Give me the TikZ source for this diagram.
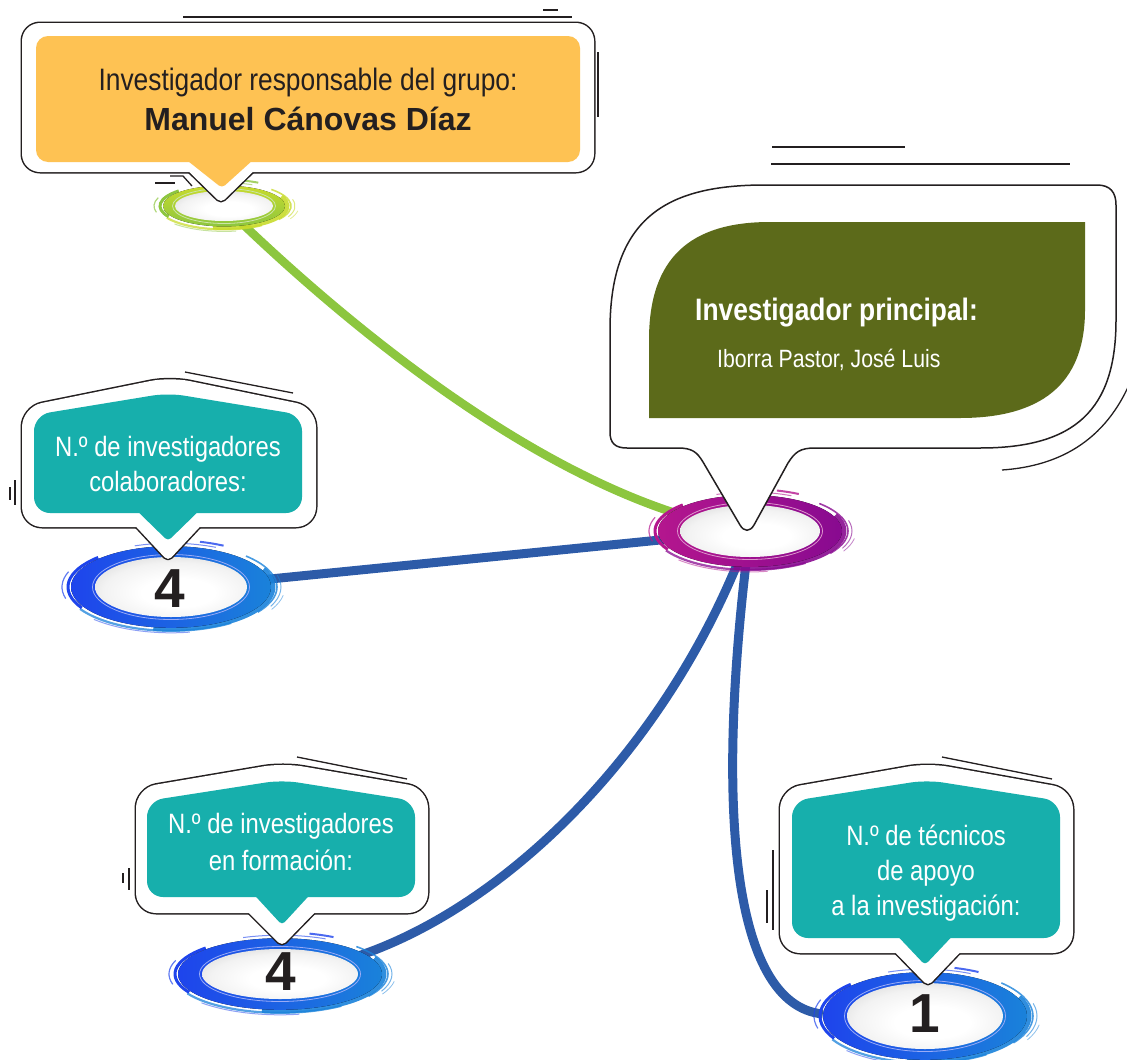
\documentclass[tikz,border=0pt]{standalone}
\usepackage{fontspec}
\setmainfont{Liberation Sans}
\newfontfamily\condf{Liberation Sans}[FakeStretch=0.85]
\usetikzlibrary{shapes.geometric}
\pgfdeclarelayer{bg}
\pgfsetlayers{bg,main}
\definecolor{ink}{HTML}{231F20}
\definecolor{orangefill}{HTML}{FEC253}
\definecolor{tealfill}{HTML}{17AFAC}
\definecolor{olivefill}{HTML}{5C6A1A}
\definecolor{linegreen}{HTML}{8CC63F}
\definecolor{lineblue}{HTML}{2D5BA8}
\definecolor{ringblue}{HTML}{1E44EC}
\definecolor{ringsky}{HTML}{1A82DA}
\definecolor{ringmag}{HTML}{B4168E}
\definecolor{ringpur}{HTML}{880A90}
\definecolor{ringgreen}{HTML}{8DC63F}
\definecolor{ringlime}{HTML}{C8DB2C}
\pgfdeclareradialshading{holeshade}{\pgfpoint{3bp}{-6bp}}{color(0bp)=(white); color(12bp)=(white); color(24bp)=(black!5); color(34bp)=(black!15); color(42bp)=(black!30); color(50bp)=(black!52); color(58bp)=(black!62)}
\newcommand\ringnumfont{\fontsize{55}{55}\selectfont\bfseries}
\newcommand\brarc[5]{\draw[#5] ({(#1)*cos(#3)},{(#2)*sin(#3)}) arc[start angle=#3, end angle=#4, x radius={#1}, y radius={#2}];}
% #1 cx, #2 cy, #3 rx, #4 ry, #5 thickness, #6 shading, #7 colour A, #8 colour B
\newcommand\brushring[8]{%
\begin{scope}[shift={(#1,#2)}]
\pgfmathsetmacro\bra{#3}%
\pgfmathsetmacro\brb{#4}%
\pgfmathsetmacro\brt{#5}%
\brarc{\bra+\brt+2}{\brb+.45*\brt+1}{-25}{100}{#8,line width=5pt,opacity=.9}
\brarc{\bra+\brt+6}{\brb+.45*\brt+3}{-45}{35}{#8,line width=1.6pt,opacity=.8}
\brarc{\bra+\brt+10}{\brb+.45*\brt+5}{-15}{25}{#8,line width=1pt,opacity=.6}
\brarc{\bra+\brt+5}{\brb+.45*\brt+3}{55}{150}{#8,line width=2.2pt,opacity=.75}
\brarc{\bra+\brt+9}{\brb+.45*\brt+5}{80}{135}{#7,line width=1pt,opacity=.5}
\brarc{\bra+\brt+3}{\brb+.45*\brt+1}{150}{225}{#7,line width=3pt}
\brarc{\bra+\brt+9}{\brb+.45*\brt+4}{165}{200}{#7,line width=1.2pt,opacity=.7}
\brarc{\bra+\brt+6}{\brb+.45*\brt+3}{-110}{-65}{#7,line width=1pt,opacity=.6}
\brarc{\bra+\brt+12}{\brb+.45*\brt+6}{-75}{-62}{#7,line width=2pt,opacity=.8}
\brarc{\bra+\brt+14}{\brb+.45*\brt+7}{10}{28}{#8,line width=.8pt,opacity=.5}
\fill[#6] (0,0) ellipse[x radius={\bra+\brt}, y radius={\brb+.45*\brt}];
\draw[#7!45!white, line width=.8pt] (0,0) ellipse[x radius={\bra+2.5}, y radius={\brb+2.5}];
\shade[shading=holeshade] (0,0) ellipse[x radius=\bra, y radius=\brb];
\end{scope}}

\begin{document}
\begin{tikzpicture}[x=1pt,y=-1pt,
  deco/.style={draw=ink, line width=1.3pt},
  outl/.style={draw=ink, line width=3pt, line join=round},
  conn/.style={line width=9pt},
  ringnode/.style={ellipse, inner sep=0pt, text=ink, font=\ringnumfont},
  txt/.style={inner sep=0pt, anchor=base},
  tealtxt/.style={txt, text=white, font=\condf\fontsize{28}{28}\selectfont},
]
\useasboundingbox (0,0) rectangle (1127,1060);

% ---------- rings ----------
\brushring{224}{206}{49}{15}{12}{top color=ringlime, bottom color=ringgreen}{ringgreen}{ringlime}
\brushring{750}{531}{70}{26}{22}{left color=ringmag, right color=ringpur}{ringmag}{ringpur}
\brushring{171}{587}{76}{30}{24}{left color=ringblue, middle color=ringblue, right color=ringsky}{ringblue}{ringsky}
\brushring{280}{974}{78}{25}{24}{left color=ringblue, middle color=ringblue, right color=ringsky}{ringblue}{ringsky}
\brushring{925}{1016}{78}{33}{24}{left color=ringblue, middle color=ringblue, right color=ringsky}{ringblue}{ringsky}

\node[ringnode, minimum width=130pt, minimum height=45pt] (rg) at (224,206) {};
\node[ringnode, minimum width=190pt, minimum height=75pt] (rc) at (750,531) {};
\node[ringnode, minimum width=200pt, minimum height=80pt] (rb1) at (170,589) {4};
\node[ringnode, minimum width=204pt, minimum height=74pt] (rb2) at (281,972) {4};
\node[ringnode, minimum width=204pt, minimum height=88pt] (rb3) at (925,1014) {1};

% ---------- connectors ----------
\begin{pgfonlayer}{bg}
\draw[conn, linegreen, line width=8.5pt] (rg.center) .. controls (310,290) and (540,500) .. (rc.center);
\draw[conn, lineblue] (rb1.center) -- (rc.center);
\draw[conn, lineblue] (rb2.center) .. controls (450,960) and (660,780) .. (rc.center);
\draw[conn, lineblue] (rc.center) .. controls (715,800) and (730,1005) .. (rb3.west);
\end{pgfonlayer}

% ---------- top callout ----------
\draw[outl, rounded corners=18] (22,23) rectangle (594,172);
\draw[outl, rounded corners=5] (177,160) -- (221,203) -- (265,160) -- cycle;
\fill[white, rounded corners=18] (22,23) rectangle (594,172);
\fill[white, rounded corners=5] (177,160) -- (221,203) -- (265,160) -- cycle;
\fill[orangefill, rounded corners=12] (36,36) rectangle (580,162);
\fill[orangefill, rounded corners=4] (174,150) -- (222,188) -- (264,150) -- cycle;
\node[txt, text=ink, font=\condf\fontsize{31}{31}\selectfont] (t1a) at (308,90) {Investigador responsable del grupo:};
\node[txt, text=ink, font=\fontsize{32}{32}\selectfont\bfseries] (t1b) at (308,130) {Manuel Cánovas Díaz};
\draw[deco] (183,17) -- (572,17);
\draw[deco] (543,10) -- (558,10);
\draw[deco] (598,52) -- (598,117);
\draw[deco] (155,183) -- (175,183);
\draw[deco] (170,176) -- (183,176) -- (192,186);

% ---------- principal callout ----------
\filldraw[fill=white, draw=ink, line width=1.5pt] (640,448) -- (678,448)
  .. controls (692,448) and (697,452) .. (703,462) -- (740,525)
  .. controls (744,532) and (750,532) .. (754,525) -- (788,463)
  .. controls (795,452) and (800,448) .. (815,448) -- (980,448)
  .. controls (1075,448) and (1116,410) .. (1116,320) -- (1116,205)
  .. controls (1116,192) and (1110,185) .. (1097,185) -- (765,185)
  .. controls (670,185) and (610,215) .. (610,330) -- (610,432)
  .. controls (610,443) and (615,448) .. (627,448) -- cycle;
\fill[olivefill] (649,418) -- (649,340) .. controls (649,258) and (690,222) .. (770,222)
  -- (1085,222) -- (1085,310) .. controls (1085,385) and (1040,418) .. (960,418) -- cycle;
\node[txt, anchor=base west, text=white, font=\condf\fontsize{31}{31}\selectfont\bfseries] (t2a) at (695,320) {Investigador principal:};
\node[txt, anchor=base west, text=white, font=\condf\fontsize{25}{25}\selectfont] (t2b) at (717,367) {Iborra Pastor, José Luis};
\draw[deco] (772,147) -- (905,147);
\draw[deco] (771,164) -- (1070,164);
\draw[deco] (1002,470) .. controls (1060,466) and (1110,440) .. (1135,370);

% ---------- collaborators callout ----------
\draw[outl, rounded corners=20] (22,527) -- (22,407) -- (170,377) -- (316,407) -- (316,527) -- cycle;
\draw[outl, rounded corners=5] (127,517) -- (168,561) -- (209,517) -- cycle;
\fill[white, rounded corners=20] (22,527) -- (22,407) -- (170,377) -- (316,407) -- (316,527) -- cycle;
\fill[white, rounded corners=5] (127,517) -- (168,561) -- (209,517) -- cycle;
\fill[tealfill, rounded corners=16] (34,513) -- (34,415) -- (168,393) -- (302,415) -- (302,513) -- cycle;
\fill[tealfill, rounded corners=4] (129,503) -- (168,541) -- (207,503) -- cycle;
\node[tealtxt] (t3a) at (168,456) {N.º de investigadores};
\node[tealtxt] (t3b) at (168,491) {colaboradores:};
\draw[deco] (185,372) -- (293,393);
\draw[deco] (10,487) -- (10,500);
\draw[deco] (15,480) -- (15,505);

% ---------- training callout ----------
\draw[outl, rounded corners=20] (136,913) -- (136,788) -- (283,763) -- (428,788) -- (428,913) -- cycle;
\draw[outl, rounded corners=5] (239,903) -- (282,946) -- (324,903) -- cycle;
\fill[white, rounded corners=20] (136,913) -- (136,788) -- (283,763) -- (428,788) -- (428,913) -- cycle;
\fill[white, rounded corners=5] (239,903) -- (282,946) -- (324,903) -- cycle;
\fill[tealfill, rounded corners=16] (147,897) -- (147,801) -- (282,780) -- (415,801) -- (415,897) -- cycle;
\fill[tealfill, rounded corners=4] (247,887) -- (282,925) -- (317,887) -- cycle;
\node[tealtxt] (t4a) at (281,833) {N.º de investigadores};
\node[tealtxt] (t4b) at (281,870) {en formación:};
\draw[deco] (297,757) -- (407,779);
\draw[deco] (123,873) -- (123,883);
\draw[deco] (129,868) -- (129,890);

% ---------- technicians callout ----------
\draw[outl, rounded corners=20] (780,953) -- (780,789) -- (928,763) -- (1073,789) -- (1073,953) -- cycle;
\draw[outl, rounded corners=5] (886,943) -- (928,986) -- (969,943) -- cycle;
\fill[white, rounded corners=20] (780,953) -- (780,789) -- (928,763) -- (1073,789) -- (1073,953) -- cycle;
\fill[white, rounded corners=5] (886,943) -- (928,986) -- (969,943) -- cycle;
\fill[tealfill, rounded corners=16] (792,938) -- (792,801) -- (927,780) -- (1060,801) -- (1060,938) -- cycle;
\fill[tealfill, rounded corners=4] (890,928) -- (925,965) -- (960,928) -- cycle;
\node[tealtxt] (t5a) at (926,845) {N.º de técnicos};
\node[tealtxt] (t5b) at (926,880) {de apoyo};
\node[tealtxt] (t5c) at (926,915) {a la investigación:};
\draw[deco] (942,757) -- (1052,779);
\draw[deco] (773,850) -- (773,930);
\draw[deco] (767,890) -- (767,923);
\end{tikzpicture}
\end{document}
